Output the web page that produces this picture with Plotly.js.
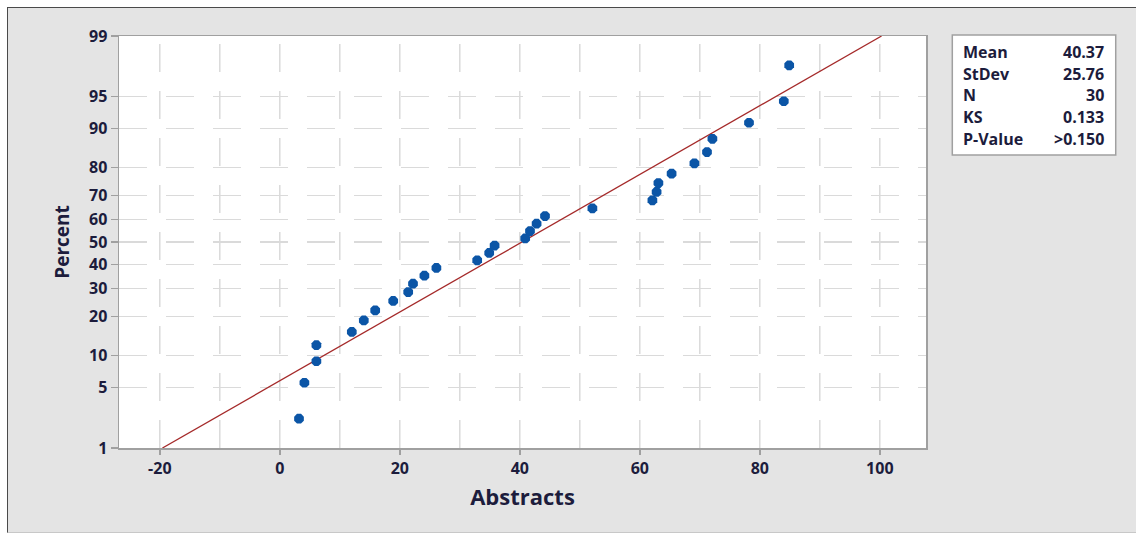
<!DOCTYPE html>
<html>
<head>
<meta charset="utf-8">
<script src="https://cdn.plot.ly/plotly-3.0.1.min.js"></script>
<style>
  html, body { margin: 0; padding: 0; background: #ffffff; width: 1136px; height: 533px; overflow: hidden; }
  #frame { position: absolute; left: 7px; top: 7px; width: 1129px; height: 524px;
           border-top: 1px solid #4a4a4a; border-left: 1px solid #4a4a4a; border-bottom: 1px solid #c8c8c8;
           background: #e4e4e4; }
  #chart { position: absolute; left: 0; top: 0; width: 1128px; height: 523px; }
</style>
</head>
<body>
<div id="frame"><div id="chart"></div></div>
<script>
// ---- data ----
const abstracts = [3.2, 4.1, 6.1, 6.1, 12.0, 14.0, 15.9, 18.9, 21.4, 22.2,
                   24.1, 26.1, 32.9, 34.9, 35.8, 40.9, 41.7, 42.8, 44.2, 52.1,
                   62.1, 62.8, 63.1, 65.3, 69.1, 71.2, 72.1, 78.2, 84.0, 84.9];
const percent   = [2.3, 5.6, 8.9, 12.2, 15.5, 18.8, 22.0, 25.3, 28.6, 31.9,
                   35.2, 38.5, 41.8, 45.1, 48.4, 51.6, 54.9, 58.2, 61.5, 64.8,
                   68.1, 71.4, 74.7, 78.0, 81.3, 84.5, 87.8, 91.1, 94.4, 97.7];
const fitMean = 40.37;
const fitStDev = 25.76;
const fitPercent = [1, 99];
const percentTicks = [1, 5, 10, 20, 30, 40, 50, 60, 70, 80, 90, 95, 99];
const xTicks = [-20, 0, 20, 40, 60, 80, 100];
const xGrid = [-20, -10, 0, 10, 20, 30, 40, 50, 60, 70, 80, 90, 100];
const statLabels = ['Mean', 'StDev', 'N', 'KS', 'P-Value'];
const statValues = ['40.37', '25.76', '30', '0.133', '&gt;0.150'];

// ---- probability (normal) scale ----
function probit(p) {
  const a = [-3.969683028665376e+01, 2.209460984245205e+02, -2.759285104469687e+02,
             1.383577518672690e+02, -3.066479806614716e+01, 2.506628277459239e+00];
  const b = [-5.447609879822406e+01, 1.615858368580409e+02, -1.556989798598866e+02,
             6.680131188771972e+01, -1.328068155288572e+01];
  const c = [-7.784894002430293e-03, -3.223964580411365e-01, -2.400758277161838e+00,
             -2.549671010422738e+00, 4.374664141464968e+00, 2.938163982698783e+00];
  const d = [7.784695709041462e-03, 3.224671290700398e-01, 2.445134137142996e+00,
             3.754408661907416e+00];
  const pl = 0.02425, ph = 1 - pl;
  let q, r;
  if (p < pl) {
    q = Math.sqrt(-2 * Math.log(p));
    return (((((c[0]*q+c[1])*q+c[2])*q+c[3])*q+c[4])*q+c[5]) / ((((d[0]*q+d[1])*q+d[2])*q+d[3])*q+1);
  } else if (p <= ph) {
    q = p - 0.5; r = q * q;
    return (((((a[0]*r+a[1])*r+a[2])*r+a[3])*r+a[4])*r+a[5])*q / (((((b[0]*r+b[1])*r+b[2])*r+b[3])*r+b[4])*r+1);
  } else {
    q = Math.sqrt(-2 * Math.log(1 - p));
    return -(((((c[0]*q+c[1])*q+c[2])*q+c[3])*q+c[4])*q+c[5]) / ((((d[0]*q+d[1])*q+d[2])*q+d[3])*q+1);
  }
}
const z = v => probit(v / 100);

const txtColor = '#1c1c3c';
const fontFam = '"Open Sans", "Noto Sans", sans-serif';

const traces = [
  {
    x: fitPercent.map(p => fitMean + fitStDev * z(p)),
    y: fitPercent.map(z),
    mode: 'lines', type: 'scatter',
    line: { color: '#a52a2a', width: 1.3 },
    hoverinfo: 'skip', showlegend: false
  },
  {
    x: abstracts, y: percent.map(z),
    mode: 'markers', type: 'scatter',
    marker: { symbol: 'octagon', size: 10.5, color: '#0b55a6', line: { width: 0 } },
    showlegend: false
  }
];

// vertical dashed grid lines (every 10 units) as shapes
const shapes = xGrid.map(v => ({
  type: 'line', xref: 'x', yref: 'paper', x0: v, x1: v, y0: 0, y1: 1,
  line: { color: '#dadada', width: 1.5, dash: '28px,19px' }, layer: 'below'
}));
// stats box
shapes.push({
  type: 'rect', xref: 'paper', yref: 'paper', x0: 1.0326, x1: 1.2351, y0: 0.7112, y1: 1.0024,
  line: { color: '#a0a0a0', width: 1.5 }, fillcolor: '#ffffff'
});

const rowY = [0.960, 0.9078, 0.8556, 0.8034, 0.7512];
const annotations = [];
statLabels.forEach((s, i) => {
  annotations.push({ xref: 'paper', yref: 'paper', x: 1.0430, y: rowY[i], xanchor: 'left', yanchor: 'middle',
    text: s, showarrow: false, font: { family: fontFam, size: 16, color: txtColor, weight: 700 } });
  annotations.push({ xref: 'paper', yref: 'paper', x: 1.2225, y: rowY[i], xanchor: 'right', yanchor: 'middle',
    text: statValues[i], showarrow: false, font: { family: fontFam, size: 16, color: txtColor, weight: 700 } });
});

const layout = {
  width: 1128, height: 523,
  margin: { l: 111, r: 210, t: 28, b: 83 },
  paper_bgcolor: '#e4e4e4', plot_bgcolor: '#ffffff',
  font: { family: fontFam, color: txtColor },
  xaxis: {
    range: [-26.8, 107.7], tickvals: xTicks, ticktext: xTicks.map(String),
    showgrid: false, zeroline: false,
    showline: true, mirror: true, linecolor: '#a0a0a0', linewidth: 1.5,
    ticks: 'outside', ticklen: 5, tickwidth: 1.5, tickcolor: '#a0a0a0',
    tickfont: { family: fontFam, size: 16, color: txtColor, weight: 700 },
    title: { text: 'Abstracts', font: { family: fontFam, size: 22, color: txtColor, weight: 700 }, standoff: 12 }
  },
  yaxis: {
    range: [z(1), z(99)], tickvals: percentTicks.map(z), ticktext: percentTicks.map(String),
    showgrid: true, gridcolor: '#dadada', gridwidth: 1.5, griddash: '28px,19px', zeroline: false,
    showline: true, mirror: true, linecolor: '#a0a0a0', linewidth: 1.5,
    ticks: 'outside', ticklen: 7, tickwidth: 1.5, tickcolor: '#a0a0a0',
    tickfont: { family: fontFam, size: 16, color: txtColor, weight: 700 },
    title: { text: 'Percent', font: { family: fontFam, size: 19, color: txtColor, weight: 700 }, standoff: 14 }
  },
  shapes: shapes,
  annotations: annotations,
  showlegend: false
};

Plotly.newPlot('chart', traces, layout, { displayModeBar: false, staticPlot: true });
</script>
</body>
</html>
